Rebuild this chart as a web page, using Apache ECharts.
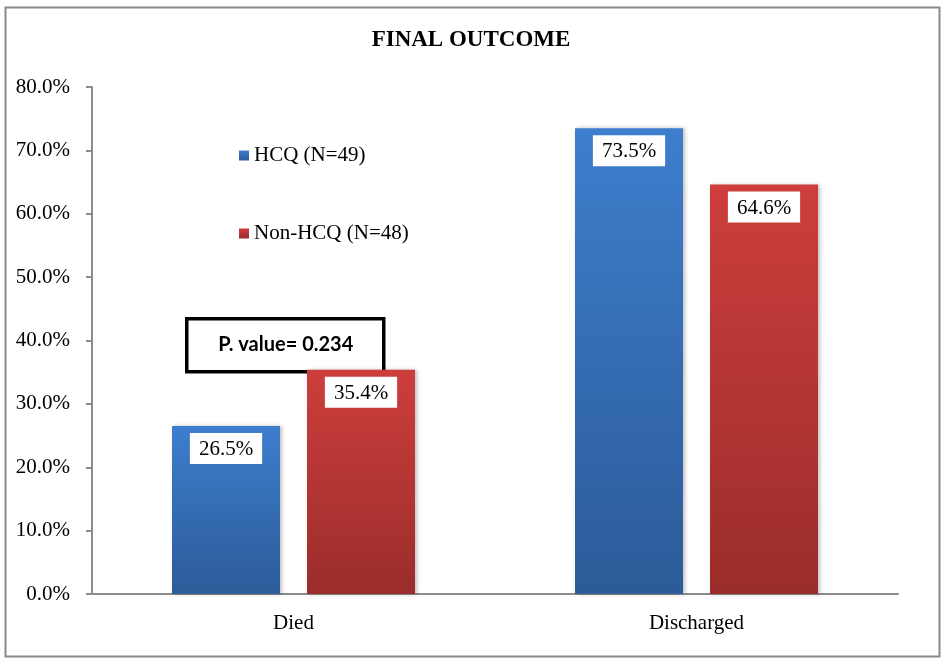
<!DOCTYPE html>
<html>
<head>
<meta charset="utf-8">
<script src="https://cdn.jsdelivr.net/npm/echarts@6/dist/echarts.min.js"></script>
<style>
html,body{margin:0;padding:0;background:#fff;}
#c{width:942px;height:658px;}
</style>
</head>
<body>
<div id="c"></div>
<script>
var categories = ['Died', 'Discharged'];
var seriesNames = ['HCQ (N=49)', 'Non-HCQ (N=48)'];
var hcqValues = [26.5, 73.5];
var nonHcqValues = [35.4, 64.6];
var yTicks = [0, 10, 20, 30, 40, 50, 60, 70, 80];
var pValueText = 'P. value= 0.234';

var chart = echarts.init(document.getElementById('c'));
function grad(top, bottom) {
  return new echarts.graphic.LinearGradient(0, 0, 0, 1, [
    {offset: 0, color: top}, {offset: 1, color: bottom}
  ]);
}
var labelCfg = {
  show: true,
  position: 'insideTop',
  distance: 7,
  backgroundColor: '#fff',
  padding: [6, 9, 4, 9],
  color: '#000',
  fontFamily: 'Liberation Serif',
  fontSize: 21,
  formatter: function (p) { return p.value.toFixed(1) + '%'; }
};
chart.setOption({
  animation: false,
  title: {
    text: 'FINAL OUTCOME',
    left: 'center',
    top: 24,
    textStyle: {fontFamily: 'Liberation Serif', fontWeight: 'bold', fontSize: 23, color: '#000'}
  },
  legend: {
    orient: 'vertical',
    left: 234,
    top: 140,
    itemWidth: 10,
    itemHeight: 10,
    itemGap: 57,
    icon: 'rect',
    textStyle: {fontFamily: 'Liberation Serif', fontSize: 21, color: '#000'},
    data: seriesNames
  },
  grid: {left: 92, right: 44, top: 87, bottom: 64, containLabel: false},
  xAxis: {
    type: 'category',
    data: categories,
    axisLine: {lineStyle: {color: '#8c8c8c', width: 2}},
    axisTick: {show: false},
    axisLabel: {fontFamily: 'Liberation Serif', fontSize: 21, color: '#000', margin: 19}
  },
  yAxis: {
    type: 'value',
    min: yTicks[0],
    max: yTicks[yTicks.length - 1],
    interval: 10,
    axisLine: {show: true, lineStyle: {color: '#8c8c8c', width: 2}},
    axisTick: {show: true, length: 6, lineStyle: {color: '#8c8c8c', width: 2}},
    splitLine: {show: false},
    axisLabel: {
      fontFamily: 'Liberation Serif', fontSize: 21, color: '#000', margin: 22,
      formatter: function (v) { return v.toFixed(1) + '%'; }
    }
  },
  series: [
    {
      name: seriesNames[0], type: 'bar', data: hcqValues,
      barWidth: 108, barGap: '25%',
      itemStyle: {color: grad('#3d7ecd', '#2c5b98'), shadowColor: 'rgba(0,0,0,0.25)', shadowBlur: 4, shadowOffsetX: 2},
      label: labelCfg
    },
    {
      name: seriesNames[1], type: 'bar', data: nonHcqValues,
      barWidth: 108, barGap: '25%',
      itemStyle: {color: grad('#cd3e3c', '#9a2d2b'), shadowColor: 'rgba(0,0,0,0.25)', shadowBlur: 4, shadowOffsetX: 2},
      label: labelCfg
    }
  ],
  graphic: [
    {type: 'rect', left: 3, top: 5, shape: {width: 934, height: 649}, style: {fill: 'none', stroke: '#8a8a8a', lineWidth: 2}, silent: true},
    {type: 'group', left: 185, top: 317, children: [
      {type: 'rect', shape: {x: 0, y: 0, width: 197, height: 53}, style: {fill: '#fff', stroke: '#000', lineWidth: 3.5}},
      {type: 'text', x: 99, y: 26, style: {text: pValueText, fill: '#000', fontFamily: 'Lato', fontWeight: 'bold', fontSize: 20, align: 'center', verticalAlign: 'middle'}}
    ]}
  ]
});
</script>
</body>
</html>
